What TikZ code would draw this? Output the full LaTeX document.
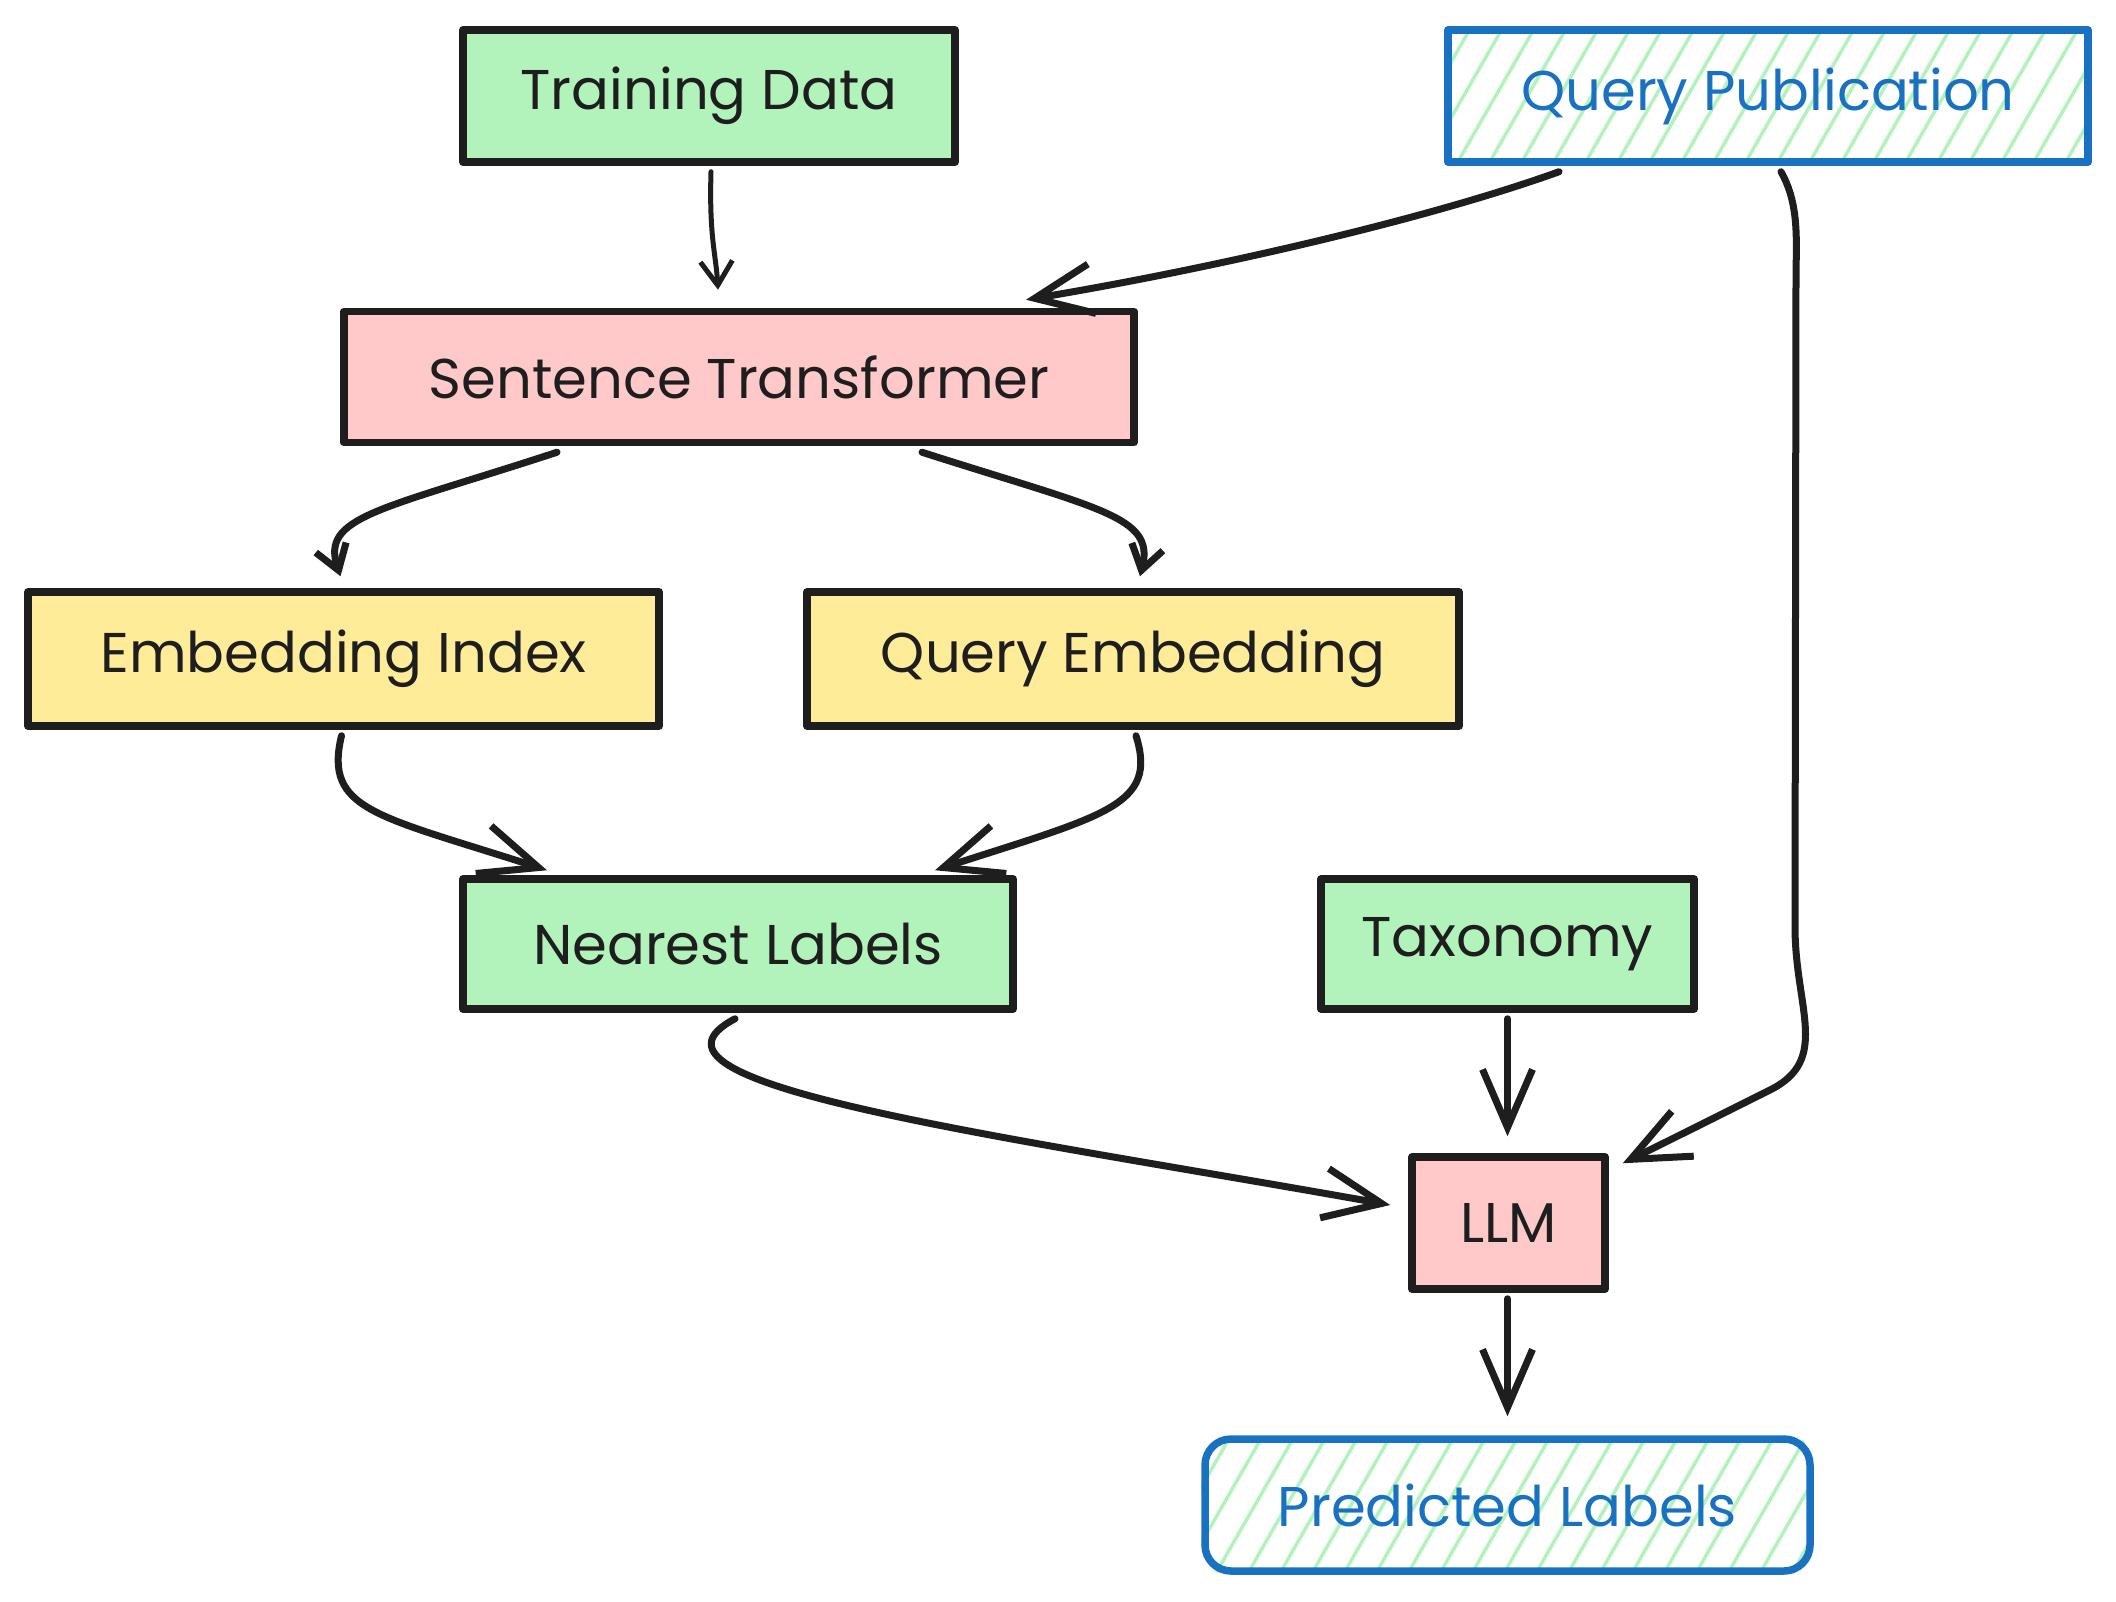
\documentclass[tikz,border=0pt]{standalone}
\usepackage{fontspec}
\setmainfont{Poppins}
\usetikzlibrary{arrows.meta,backgrounds,calc}
\definecolor{ink}{HTML}{1E1E1E}
\definecolor{gfill}{HTML}{B2F2BB}
\definecolor{pfill}{HTML}{FFC9C9}
\definecolor{yfill}{HTML}{FFEC99}
\definecolor{blu}{HTML}{1971C2}
\begin{document}
\begin{tikzpicture}[x=1pt,y=-1pt,
  box/.style={draw=ink, line width=7.5pt, rectangle, text=ink, inner sep=0pt, line join=round,
    font=\fontsize{56}{64}\selectfont},
  greenbox/.style={box, fill=gfill},
  pinkbox/.style={box, fill=pfill},
  yellowbox/.style={box, fill=yfill},
  hatchbox/.style={box, draw=blu, text=blu},
  conn/.style={draw=ink, line width=7pt, line cap=round, line join=round},
  tipS/.style={-{Straight Barb[length=24pt,width=32pt]}},
  tipL/.style={-{Straight Barb[length=58pt,width=50pt]}},
  hatch/.style={draw=gfill, line width=3.5pt}
]
\useasboundingbox (0,0) rectangle (2116,1602);

% nodes
\node[greenbox, minimum width=492pt, minimum height=132pt] (td) at (709,96) {Training Data};
\node[hatchbox, minimum width=640pt, minimum height=132pt] (qp) at (1768,96) {Query Publication};
\node[pinkbox, minimum width=790pt, minimum height=131pt] (st) at (739,377) {Sentence Transformer};
\node[yellowbox, minimum width=631pt, minimum height=134pt] (ei) at (343.5,659) {Embedding Index};
\node[yellowbox, minimum width=652pt, minimum height=134pt] (qe) at (1133,659) {Query Embedding};
\node[greenbox, minimum width=550pt, minimum height=130pt] (nl) at (738,944) {Nearest Labels};
\node[greenbox, minimum width=373pt, minimum height=130pt] (tax) at (1507.5,944) {Taxonomy};
\node[pinkbox, minimum width=193pt, minimum height=132pt] (llm) at (1508.5,1223) {LLM};
\node[hatchbox, rounded corners=26pt, minimum width=605pt, minimum height=132pt] (pl) at (1507.5,1505) {Predicted Labels};

% hatching
\begin{scope}[on background layer]
  \begin{scope}
    \clip (qp.south west) rectangle (qp.north east);
    \foreach \x in {1360,1392,...,2100} \draw[hatch] (\x,165) -- ++(78,-136);
  \end{scope}
  \begin{scope}
    \clip[rounded corners=26pt] (pl.south west) rectangle (pl.north east);
    \foreach \x in {1120,1152,...,1830} \draw[hatch] (\x,1573) -- ++(78,-136);
  \end{scope}
\end{scope}

% connectors
\draw[conn, line width=5pt, tipS] ($(td.south)+(2,6)$) .. controls +(-2,65) and +(-2,-35) .. ($(st.north)+(-21,-18)$);
\draw[conn, tipL] ($(qp.south)+(-209,6)$) .. controls +(-139,50) and +(174,-29) .. ($(st.north)+(287,-8)$);
\draw[conn, tipS] ($(st.south)+(-182,6)$) .. controls +(-177,58) and +(-20,-60) .. ($(ei.north)+(-3,-12)$);
\draw[conn, tipS] ($(st.south)+(183,6)$) .. controls +(178,57) and +(15,-60) .. ($(qe.north)+(7,-12)$);
\draw[conn, tipL] ($(ei.south)+(-2,6)$) .. controls +(-18,75) and +(-170,-55) .. ($(nl.north)+(-191,-5)$);
\draw[conn, tipL] ($(qe.south)+(3,6)$) .. controls +(22,70) and +(170,-55) .. ($(nl.north)+(197,-5)$);
\draw[conn, tipL] ($(nl.south)+(-3,6)$) .. controls (610,1085) and (1000,1135) .. ($(llm.west)+(-18,-18)$);
\draw[conn, tipL] ($(tax.south)+(0,6)$) -- ($(llm.north)+(-1,-17)$);
\draw[conn, tipL] ($(qp.south)+(13,6)$) .. controls (1797,200) and (1797,230) .. (1796,270)
   -- (1795,930) .. controls (1796,1010) and (1830,1060) .. (1770,1090)
   .. controls (1720,1115) and (1670,1140) .. ($(llm.north east)+(14,10)$);
\draw[conn, tipL] ($(llm.south)+(-1,6)$) -- ($(pl.north)+(0,-19)$);
\end{tikzpicture}
\end{document}
